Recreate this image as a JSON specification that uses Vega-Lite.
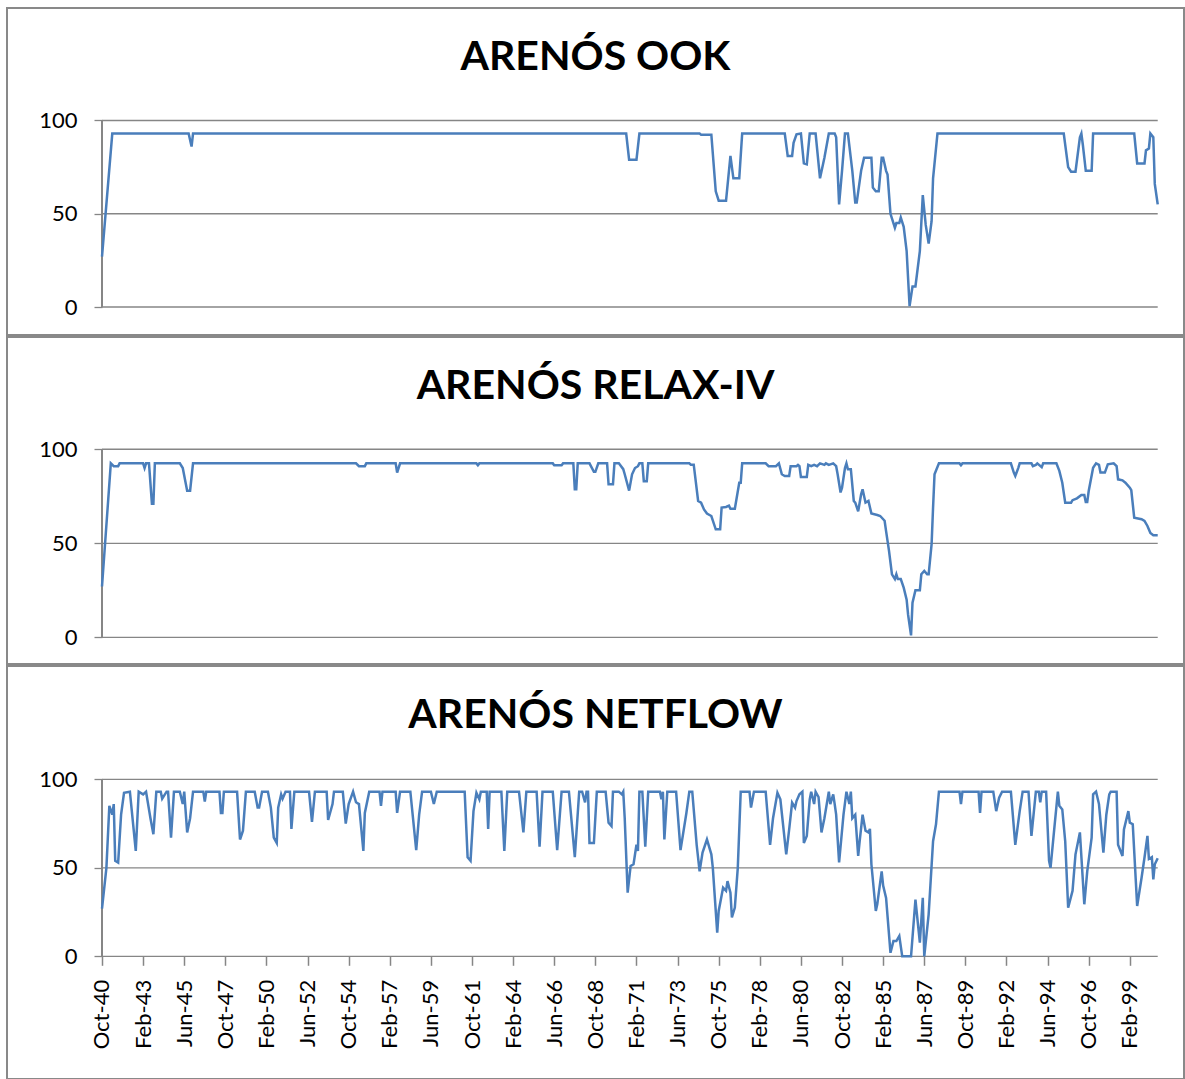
{
  "$schema": "https://vega.github.io/schema/vega-lite/v6.json",
  "padding": {"left": 6, "top": 7, "right": 0, "bottom": 0},
  "background": "white",
  "spacing": 2,
  "bounds": "flush",
  "config": {
    "font": "Lato",
    "view": {"stroke": "#898989", "strokeWidth": 2},
    "axisY": {"offset": -95, "domain": false, "grid": false, "ticks": true, "tickSize": 8, "tickColor": "#868686", "tickWidth": 1.3, "labelFont": "Lato", "labelFontSize": 22, "labelColor": "#000000", "labelPadding": 17, "labelFlush": false, "labelBound": false, "labelOverlap": false},
    "axisX": {"offset": -122.7, "domain": false, "grid": false, "ticks": true, "tickSize": 9, "tickColor": "#868686", "tickWidth": 1.5, "labelFont": "Lato", "labelFontSize": 22, "labelColor": "#000000", "labelAngle": -90, "labelPadding": 14, "labelFlush": false, "labelBound": false, "labelOverlap": false},
    "title": {"font": "Lato", "fontSize": 41, "fontWeight": "bold", "color": "#000000", "anchor": "middle", "frame": "group", "baseline": "top", "offset": -71}
  },
  "datasets": {
    "grid": [{"g": 0}, {"g": 50}, {"g": 100}],
    "axisline": [{"lo": 0, "hi": 100}],
    "ook": [
      {"month": 0, "pct": 27}, {"month": 7, "pct": 93}, {"month": 59, "pct": 93}, {"month": 61, "pct": 86}, {"month": 62, "pct": 93},
      {"month": 357, "pct": 93}, {"month": 359, "pct": 79}, {"month": 364, "pct": 79}, {"month": 366, "pct": 93},
      {"month": 407, "pct": 93}, {"month": 408, "pct": 92.4}, {"month": 415, "pct": 92.4}, {"month": 418, "pct": 62}, {"month": 420, "pct": 57},
      {"month": 425, "pct": 57}, {"month": 428, "pct": 81}, {"month": 430, "pct": 69}, {"month": 434, "pct": 69}, {"month": 436, "pct": 93},
      {"month": 465, "pct": 93}, {"month": 467, "pct": 81}, {"month": 470, "pct": 81}, {"month": 471, "pct": 88}, {"month": 473, "pct": 92.6},
      {"month": 476, "pct": 93}, {"month": 478, "pct": 77}, {"month": 480, "pct": 76.5}, {"month": 482, "pct": 93}, {"month": 486, "pct": 93},
      {"month": 489, "pct": 69}, {"month": 492, "pct": 80}, {"month": 495, "pct": 93}, {"month": 499, "pct": 93}, {"month": 500, "pct": 91},
      {"month": 502, "pct": 55}, {"month": 504, "pct": 73}, {"month": 506, "pct": 93}, {"month": 508, "pct": 93}, {"month": 511, "pct": 73},
      {"month": 513, "pct": 56}, {"month": 514, "pct": 56}, {"month": 517, "pct": 73}, {"month": 519, "pct": 80}, {"month": 524, "pct": 80},
      {"month": 525, "pct": 64}, {"month": 527, "pct": 62}, {"month": 529, "pct": 62}, {"month": 531, "pct": 80}, {"month": 532, "pct": 80},
      {"month": 534, "pct": 73}, {"month": 535, "pct": 71}, {"month": 537, "pct": 50}, {"month": 540, "pct": 42.5}, {"month": 541, "pct": 45},
      {"month": 543, "pct": 45}, {"month": 544, "pct": 48}, {"month": 546, "pct": 43}, {"month": 548, "pct": 30}, {"month": 550, "pct": 0.5},
      {"month": 552, "pct": 11}, {"month": 554, "pct": 11}, {"month": 557, "pct": 30}, {"month": 559, "pct": 60}, {"month": 561, "pct": 44},
      {"month": 563, "pct": 34}, {"month": 565, "pct": 46}, {"month": 566, "pct": 69}, {"month": 568, "pct": 85}, {"month": 569, "pct": 93},
      {"month": 655, "pct": 93}, {"month": 658, "pct": 75}, {"month": 660, "pct": 72.5}, {"month": 663, "pct": 72.5}, {"month": 666, "pct": 91},
      {"month": 667, "pct": 93}, {"month": 668, "pct": 87}, {"month": 670, "pct": 73}, {"month": 674, "pct": 73}, {"month": 675, "pct": 93},
      {"month": 703, "pct": 93}, {"month": 705, "pct": 77}, {"month": 710, "pct": 77}, {"month": 711, "pct": 84}, {"month": 713, "pct": 85},
      {"month": 714, "pct": 93}, {"month": 716, "pct": 91}, {"month": 717, "pct": 66}, {"month": 719, "pct": 55}
    ],
    "relax": [
      {"month": 0, "pct": 27}, {"month": 6, "pct": 92.5}, {"month": 8, "pct": 91}, {"month": 11, "pct": 91}, {"month": 12, "pct": 92.5},
      {"month": 28, "pct": 92.5}, {"month": 29, "pct": 90}, {"month": 30, "pct": 92.5}, {"month": 32, "pct": 92.5}, {"month": 34, "pct": 71},
      {"month": 35, "pct": 71}, {"month": 36, "pct": 92.5}, {"month": 53, "pct": 92.5}, {"month": 55, "pct": 90}, {"month": 58, "pct": 78},
      {"month": 60, "pct": 78}, {"month": 62, "pct": 92.5}, {"month": 173, "pct": 92.5}, {"month": 175, "pct": 91}, {"month": 179, "pct": 91},
      {"month": 180, "pct": 92.5}, {"month": 200, "pct": 92.5}, {"month": 201, "pct": 87.6}, {"month": 203, "pct": 92.5},
      {"month": 255, "pct": 92.5}, {"month": 256, "pct": 91.5}, {"month": 257, "pct": 92.5},
      {"month": 307, "pct": 92.5}, {"month": 308, "pct": 91.5}, {"month": 313, "pct": 91.5}, {"month": 314, "pct": 92.5},
      {"month": 321, "pct": 92.5}, {"month": 322, "pct": 78.7}, {"month": 323, "pct": 78.7}, {"month": 324, "pct": 92.5},
      {"month": 332, "pct": 92.5}, {"month": 335, "pct": 88}, {"month": 336, "pct": 88}, {"month": 338, "pct": 92.5},
      {"month": 344, "pct": 92.5}, {"month": 345, "pct": 81.4}, {"month": 348, "pct": 81.4}, {"month": 349, "pct": 92.5},
      {"month": 352, "pct": 92.5}, {"month": 355, "pct": 89.4}, {"month": 356, "pct": 86.7}, {"month": 359, "pct": 78}, {"month": 361, "pct": 86.7},
      {"month": 363, "pct": 90}, {"month": 365, "pct": 91}, {"month": 366, "pct": 92.5}, {"month": 368, "pct": 92.5}, {"month": 369, "pct": 83},
      {"month": 371, "pct": 83}, {"month": 372, "pct": 92.5}, {"month": 400, "pct": 92.5}, {"month": 401, "pct": 91.8}, {"month": 403, "pct": 91.8},
      {"month": 406, "pct": 72.5}, {"month": 408, "pct": 71.6}, {"month": 410, "pct": 68}, {"month": 412, "pct": 65.8}, {"month": 415, "pct": 64.5},
      {"month": 418, "pct": 57.4}, {"month": 421, "pct": 57.4}, {"month": 422, "pct": 69}, {"month": 425, "pct": 69.3}, {"month": 427, "pct": 70},
      {"month": 428, "pct": 68.4}, {"month": 431, "pct": 68.4}, {"month": 434, "pct": 82.2}, {"month": 435, "pct": 82.2}, {"month": 436, "pct": 92.5},
      {"month": 452, "pct": 92.5}, {"month": 454, "pct": 91}, {"month": 459, "pct": 91}, {"month": 461, "pct": 92.5}, {"month": 463, "pct": 86.7},
      {"month": 465, "pct": 85.8}, {"month": 468, "pct": 85.8}, {"month": 469, "pct": 91}, {"month": 473, "pct": 91}, {"month": 474, "pct": 91.7},
      {"month": 475, "pct": 91}, {"month": 476, "pct": 85.3}, {"month": 480, "pct": 85.3}, {"month": 481, "pct": 91.7}, {"month": 483, "pct": 91},
      {"month": 485, "pct": 91.7}, {"month": 487, "pct": 91}, {"month": 489, "pct": 92.5}, {"month": 492, "pct": 91.7}, {"month": 493, "pct": 92.5},
      {"month": 495, "pct": 91.7}, {"month": 498, "pct": 92.5}, {"month": 500, "pct": 91}, {"month": 501, "pct": 86.7}, {"month": 503, "pct": 77},
      {"month": 504, "pct": 79.6}, {"month": 506, "pct": 90}, {"month": 507, "pct": 92.5}, {"month": 508, "pct": 89.4}, {"month": 510, "pct": 89.4},
      {"month": 512, "pct": 72.5}, {"month": 513, "pct": 71.6}, {"month": 515, "pct": 67}, {"month": 517, "pct": 76}, {"month": 518, "pct": 78.7},
      {"month": 520, "pct": 71.6}, {"month": 522, "pct": 72.5}, {"month": 524, "pct": 65.8}, {"month": 528, "pct": 65}, {"month": 530, "pct": 64.5},
      {"month": 533, "pct": 62}, {"month": 534, "pct": 56.5}, {"month": 536, "pct": 46}, {"month": 538, "pct": 33.5}, {"month": 540, "pct": 31},
      {"month": 541, "pct": 33.5}, {"month": 542, "pct": 31}, {"month": 544, "pct": 31}, {"month": 546, "pct": 26.4}, {"month": 548, "pct": 20},
      {"month": 549, "pct": 12}, {"month": 551, "pct": 1}, {"month": 552, "pct": 18.4}, {"month": 554, "pct": 25}, {"month": 557, "pct": 25},
      {"month": 558, "pct": 33.5}, {"month": 560, "pct": 35.3}, {"month": 562, "pct": 33.5}, {"month": 563, "pct": 33.5}, {"month": 565, "pct": 49.5},
      {"month": 566, "pct": 69}, {"month": 567, "pct": 86.7}, {"month": 570, "pct": 92.5},
      {"month": 584, "pct": 92.5}, {"month": 585, "pct": 91.5}, {"month": 586, "pct": 92.5},
      {"month": 619, "pct": 92.5}, {"month": 621, "pct": 87.6}, {"month": 622, "pct": 85.8}, {"month": 624, "pct": 90}, {"month": 625, "pct": 92.5},
      {"month": 633, "pct": 92.5}, {"month": 634, "pct": 91}, {"month": 636, "pct": 91.7}, {"month": 637, "pct": 92.5}, {"month": 640, "pct": 90.5},
      {"month": 641, "pct": 92.5}, {"month": 650, "pct": 92.5}, {"month": 652, "pct": 88.5}, {"month": 654, "pct": 82.2}, {"month": 656, "pct": 71.6},
      {"month": 660, "pct": 71.6}, {"month": 661, "pct": 72.9}, {"month": 664, "pct": 73.9}, {"month": 667, "pct": 75.7}, {"month": 669, "pct": 75.7},
      {"month": 670, "pct": 71.9}, {"month": 671, "pct": 71.9}, {"month": 672, "pct": 77.8}, {"month": 675, "pct": 90.2}, {"month": 677, "pct": 92.5},
      {"month": 679, "pct": 91.7}, {"month": 680, "pct": 87.6}, {"month": 683, "pct": 87.6}, {"month": 685, "pct": 92}, {"month": 689, "pct": 92.5},
      {"month": 691, "pct": 91}, {"month": 692, "pct": 84}, {"month": 695, "pct": 83.5}, {"month": 697, "pct": 82.2}, {"month": 700, "pct": 79.6},
      {"month": 701, "pct": 78.2}, {"month": 703, "pct": 63.6}, {"month": 708, "pct": 62.8}, {"month": 710, "pct": 61.9}, {"month": 712, "pct": 59.2},
      {"month": 714, "pct": 55.5}, {"month": 716, "pct": 54.3}, {"month": 719, "pct": 54.3}
    ],
    "netflow": [
      {"month": 0, "pct": 27}, {"month": 3, "pct": 50}, {"month": 5, "pct": 85}, {"month": 7, "pct": 80}, {"month": 8, "pct": 86},
      {"month": 9, "pct": 54}, {"month": 11, "pct": 53}, {"month": 13, "pct": 80}, {"month": 15, "pct": 92.4}, {"month": 19, "pct": 93},
      {"month": 23, "pct": 59.5}, {"month": 25, "pct": 93}, {"month": 28, "pct": 91.5}, {"month": 30, "pct": 93}, {"month": 33, "pct": 78},
      {"month": 35, "pct": 69}, {"month": 37, "pct": 93}, {"month": 40, "pct": 93}, {"month": 41, "pct": 89}, {"month": 44, "pct": 93},
      {"month": 45, "pct": 93}, {"month": 47, "pct": 67}, {"month": 49, "pct": 93}, {"month": 53, "pct": 93}, {"month": 55, "pct": 86},
      {"month": 56, "pct": 93}, {"month": 58, "pct": 70}, {"month": 60, "pct": 78}, {"month": 62, "pct": 93}, {"month": 69, "pct": 93},
      {"month": 70, "pct": 87.4}, {"month": 71, "pct": 93}, {"month": 80, "pct": 93}, {"month": 81, "pct": 81}, {"month": 82, "pct": 81},
      {"month": 83, "pct": 93}, {"month": 92, "pct": 93}, {"month": 94, "pct": 66}, {"month": 96, "pct": 71}, {"month": 98, "pct": 93},
      {"month": 104, "pct": 93}, {"month": 106, "pct": 84}, {"month": 107, "pct": 84}, {"month": 109, "pct": 93}, {"month": 113, "pct": 93},
      {"month": 115, "pct": 84}, {"month": 117, "pct": 67}, {"month": 119, "pct": 64}, {"month": 120, "pct": 84}, {"month": 122, "pct": 91.5},
      {"month": 123, "pct": 89}, {"month": 125, "pct": 93}, {"month": 128, "pct": 93}, {"month": 129, "pct": 72}, {"month": 131, "pct": 93},
      {"month": 141, "pct": 93}, {"month": 143, "pct": 76}, {"month": 145, "pct": 93}, {"month": 153, "pct": 93}, {"month": 154, "pct": 77},
      {"month": 157, "pct": 86}, {"month": 158, "pct": 93}, {"month": 164, "pct": 93}, {"month": 166, "pct": 75}, {"month": 168, "pct": 86},
      {"month": 171, "pct": 93}, {"month": 173, "pct": 87}, {"month": 175, "pct": 86}, {"month": 178, "pct": 59.5}, {"month": 179, "pct": 81},
      {"month": 182, "pct": 93}, {"month": 189, "pct": 93}, {"month": 190, "pct": 85}, {"month": 191, "pct": 93}, {"month": 200, "pct": 93},
      {"month": 201, "pct": 81}, {"month": 203, "pct": 93}, {"month": 210, "pct": 93}, {"month": 214, "pct": 60}, {"month": 216, "pct": 80},
      {"month": 218, "pct": 93}, {"month": 224, "pct": 93}, {"month": 226, "pct": 86}, {"month": 228, "pct": 93}, {"month": 247, "pct": 93},
      {"month": 249, "pct": 56}, {"month": 251, "pct": 54}, {"month": 253, "pct": 82}, {"month": 255, "pct": 92.4}, {"month": 257, "pct": 88.7},
      {"month": 258, "pct": 93}, {"month": 262, "pct": 93}, {"month": 263, "pct": 72}, {"month": 264, "pct": 93}, {"month": 272, "pct": 93},
      {"month": 274, "pct": 59.5}, {"month": 276, "pct": 93}, {"month": 284, "pct": 93}, {"month": 287, "pct": 70}, {"month": 289, "pct": 93},
      {"month": 296, "pct": 93}, {"month": 298, "pct": 62}, {"month": 300, "pct": 93}, {"month": 307, "pct": 93}, {"month": 310, "pct": 60},
      {"month": 313, "pct": 93}, {"month": 318, "pct": 93}, {"month": 322, "pct": 56}, {"month": 325, "pct": 93}, {"month": 327, "pct": 93},
      {"month": 329, "pct": 87}, {"month": 330, "pct": 93}, {"month": 331, "pct": 93}, {"month": 332, "pct": 64}, {"month": 335, "pct": 64},
      {"month": 337, "pct": 93}, {"month": 343, "pct": 93}, {"month": 345, "pct": 75.5}, {"month": 347, "pct": 73.6}, {"month": 348, "pct": 93},
      {"month": 352, "pct": 93}, {"month": 354, "pct": 91.5}, {"month": 355, "pct": 93}, {"month": 356, "pct": 78}, {"month": 358, "pct": 36},
      {"month": 360, "pct": 51}, {"month": 362, "pct": 52}, {"month": 364, "pct": 63}, {"month": 365, "pct": 59.5}, {"month": 366, "pct": 93},
      {"month": 368, "pct": 93}, {"month": 370, "pct": 62}, {"month": 372, "pct": 93}, {"month": 380, "pct": 93}, {"month": 381, "pct": 88.7},
      {"month": 382, "pct": 93}, {"month": 383, "pct": 66}, {"month": 385, "pct": 93}, {"month": 391, "pct": 93}, {"month": 394, "pct": 60},
      {"month": 398, "pct": 81}, {"month": 400, "pct": 93}, {"month": 402, "pct": 93}, {"month": 405, "pct": 63}, {"month": 407, "pct": 48},
      {"month": 409, "pct": 58.6}, {"month": 412, "pct": 66}, {"month": 415, "pct": 57.6}, {"month": 416, "pct": 50}, {"month": 419, "pct": 13.4},
      {"month": 420, "pct": 25.6}, {"month": 423, "pct": 38.8}, {"month": 425, "pct": 37}, {"month": 426, "pct": 42.5}, {"month": 428, "pct": 36},
      {"month": 429, "pct": 22}, {"month": 431, "pct": 27.5}, {"month": 433, "pct": 50}, {"month": 435, "pct": 93}, {"month": 441, "pct": 93},
      {"month": 442, "pct": 84}, {"month": 444, "pct": 93}, {"month": 452, "pct": 93}, {"month": 455, "pct": 63}, {"month": 457, "pct": 78},
      {"month": 460, "pct": 92.4}, {"month": 462, "pct": 88.7}, {"month": 466, "pct": 57.6}, {"month": 468, "pct": 71.7}, {"month": 470, "pct": 86.8},
      {"month": 472, "pct": 84}, {"month": 473, "pct": 87.7}, {"month": 475, "pct": 91.5}, {"month": 477, "pct": 93}, {"month": 478, "pct": 64},
      {"month": 480, "pct": 68}, {"month": 482, "pct": 88.7}, {"month": 483, "pct": 93}, {"month": 485, "pct": 86}, {"month": 486, "pct": 93},
      {"month": 488, "pct": 90}, {"month": 490, "pct": 70}, {"month": 492, "pct": 78}, {"month": 495, "pct": 93}, {"month": 496, "pct": 86},
      {"month": 498, "pct": 91.5}, {"month": 499, "pct": 86}, {"month": 500, "pct": 80}, {"month": 502, "pct": 53}, {"month": 505, "pct": 80},
      {"month": 507, "pct": 93}, {"month": 509, "pct": 86}, {"month": 510, "pct": 93}, {"month": 511, "pct": 78}, {"month": 513, "pct": 80},
      {"month": 515, "pct": 56.7}, {"month": 516, "pct": 65}, {"month": 518, "pct": 80}, {"month": 520, "pct": 71}, {"month": 522, "pct": 70},
      {"month": 523, "pct": 72}, {"month": 524, "pct": 52}, {"month": 527, "pct": 25.6}, {"month": 528, "pct": 29.4}, {"month": 531, "pct": 48},
      {"month": 532, "pct": 40}, {"month": 534, "pct": 33}, {"month": 537, "pct": 2}, {"month": 539, "pct": 8.6}, {"month": 541, "pct": 8.6},
      {"month": 543, "pct": 11.5}, {"month": 545, "pct": 0}, {"month": 551, "pct": 0}, {"month": 554, "pct": 32}, {"month": 557, "pct": 7.7},
      {"month": 559, "pct": 33}, {"month": 560, "pct": 0}, {"month": 563, "pct": 23.7}, {"month": 566, "pct": 65}, {"month": 568, "pct": 74.6},
      {"month": 570, "pct": 93}, {"month": 584, "pct": 93}, {"month": 585, "pct": 86}, {"month": 586, "pct": 93}, {"month": 597, "pct": 93},
      {"month": 598, "pct": 81}, {"month": 599, "pct": 93}, {"month": 607, "pct": 93}, {"month": 609, "pct": 82}, {"month": 611, "pct": 89.6},
      {"month": 613, "pct": 93}, {"month": 619, "pct": 93}, {"month": 622, "pct": 63}, {"month": 625, "pct": 82}, {"month": 627, "pct": 93},
      {"month": 631, "pct": 93}, {"month": 633, "pct": 68}, {"month": 636, "pct": 93}, {"month": 638, "pct": 93}, {"month": 639, "pct": 87},
      {"month": 640, "pct": 93}, {"month": 643, "pct": 93}, {"month": 645, "pct": 54}, {"month": 646, "pct": 50}, {"month": 649, "pct": 76},
      {"month": 651, "pct": 93}, {"month": 652, "pct": 85}, {"month": 654, "pct": 83}, {"month": 656, "pct": 65}, {"month": 658, "pct": 27.5},
      {"month": 661, "pct": 37}, {"month": 663, "pct": 57.6}, {"month": 666, "pct": 70}, {"month": 669, "pct": 29.4}, {"month": 671, "pct": 48},
      {"month": 674, "pct": 67}, {"month": 675, "pct": 91.5}, {"month": 677, "pct": 93}, {"month": 679, "pct": 86}, {"month": 682, "pct": 58.6},
      {"month": 684, "pct": 80}, {"month": 686, "pct": 91.5}, {"month": 687, "pct": 93}, {"month": 691, "pct": 93}, {"month": 692, "pct": 63},
      {"month": 695, "pct": 56.7}, {"month": 696, "pct": 71.7}, {"month": 699, "pct": 82}, {"month": 700, "pct": 75.5}, {"month": 702, "pct": 74.6},
      {"month": 705, "pct": 28.4}, {"month": 708, "pct": 44.4}, {"month": 710, "pct": 55.8}, {"month": 712, "pct": 68}, {"month": 713, "pct": 55},
      {"month": 715, "pct": 56}, {"month": 716, "pct": 43.5}, {"month": 717, "pct": 52}, {"month": 719, "pct": 55.4}
    ]
  },
  "vconcat": [
    {
      "width": 1177,
      "height": 327,
      "title": "ARENÓS OOK",
      "layer": [
        {
          "data": {"name": "grid"},
          "mark": {"type": "rule", "color": "#868686", "strokeWidth": 1.3},
          "encoding": {
            "y": {"field": "g", "type": "quantitative", "scale": {"domain": [-15.0, 160.3], "nice": false, "zero": false}, "axis": {"values": [0, 50, 100], "title": null}},
            "x": {"datum": 0, "type": "quantitative", "scale": {"domain": [-64.7, 736.9], "nice": false, "zero": false}, "axis": null},
            "x2": {"datum": 719}
          }
        },
        {
          "data": {"name": "axisline"},
          "mark": {"type": "rule", "color": "#868686", "strokeWidth": 2},
          "encoding": {
            "x": {"datum": 0, "type": "quantitative"},
            "y": {"field": "lo", "type": "quantitative"},
            "y2": {"field": "hi"}
          }
        },
        {
          "data": {"name": "ook"},
          "mark": {"type": "line", "color": "#4a7ebb", "strokeWidth": 2.5},
          "encoding": {
            "x": {"field": "month", "type": "quantitative"},
            "y": {"field": "pct", "type": "quantitative"}
          }
        }
      ]
    },
    {
      "width": 1177,
      "height": 327,
      "title": "ARENÓS RELAX-IV",
      "layer": [
        {
          "data": {"name": "grid"},
          "mark": {"type": "rule", "color": "#868686", "strokeWidth": 1.3},
          "encoding": {
            "y": {"field": "g", "type": "quantitative", "scale": {"domain": [-14.2, 159.7], "nice": false, "zero": false}, "axis": {"values": [0, 50, 100], "title": null}},
            "x": {"datum": 0, "type": "quantitative", "scale": {"domain": [-64.7, 736.9], "nice": false, "zero": false}, "axis": null},
            "x2": {"datum": 719}
          }
        },
        {
          "data": {"name": "axisline"},
          "mark": {"type": "rule", "color": "#868686", "strokeWidth": 2},
          "encoding": {
            "x": {"datum": 0, "type": "quantitative"},
            "y": {"field": "lo", "type": "quantitative"},
            "y2": {"field": "hi"}
          }
        },
        {
          "data": {"name": "relax"},
          "mark": {"type": "line", "color": "#4a7ebb", "strokeWidth": 2.5},
          "encoding": {
            "x": {"field": "month", "type": "quantitative"},
            "y": {"field": "pct", "type": "quantitative"}
          }
        }
      ]
    },
    {
      "width": 1177,
      "height": 413,
      "title": "ARENÓS NETFLOW",
      "layer": [
        {
          "data": {"name": "grid"},
          "mark": {"type": "rule", "color": "#868686", "strokeWidth": 1.3},
          "encoding": {
            "y": {"field": "g", "type": "quantitative", "scale": {"domain": [-69.3, 164.0], "nice": false, "zero": false}, "axis": {"values": [0, 50, 100], "title": null}},
            "x": {"datum": 0, "type": "quantitative", "scale": {"domain": [-64.7, 736.9], "nice": false, "zero": false}, "axis": {"values": [0, 28, 56, 84, 112, 140, 168, 196, 224, 252, 280, 308, 336, 364, 392, 420, 448, 476, 504, 532, 560, 588, 616, 644, 672, 700], "title": null, "labelExpr": "['Jan','Feb','Mar','Apr','May','Jun','Jul','Aug','Sep','Oct','Nov','Dec'][(datum.value + 9) % 12] + '-' + ((40 + floor((datum.value + 9) / 12)) % 100)"}},
            "x2": {"datum": 719}
          }
        },
        {
          "data": {"name": "axisline"},
          "mark": {"type": "rule", "color": "#868686", "strokeWidth": 2},
          "encoding": {
            "x": {"datum": 0, "type": "quantitative"},
            "y": {"field": "lo", "type": "quantitative"},
            "y2": {"field": "hi"}
          }
        },
        {
          "data": {"name": "netflow"},
          "mark": {"type": "line", "color": "#4a7ebb", "strokeWidth": 2.5},
          "encoding": {
            "x": {"field": "month", "type": "quantitative"},
            "y": {"field": "pct", "type": "quantitative"}
          }
        }
      ]
    }
  ]
}
